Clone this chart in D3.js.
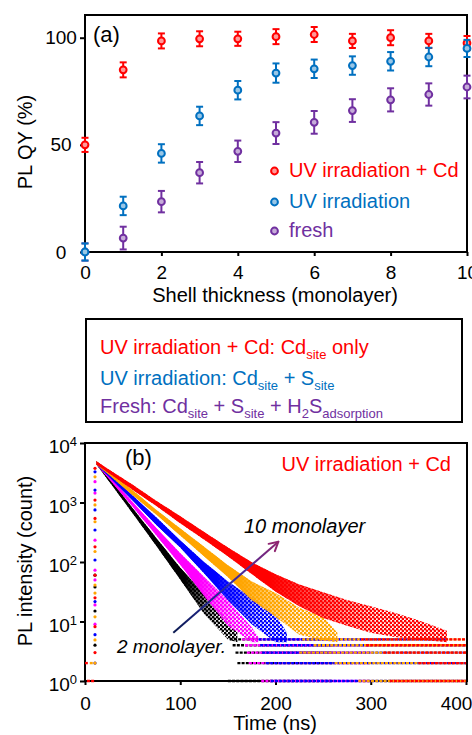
<!DOCTYPE html>
<html><head><meta charset="utf-8">
<script src="https://cdn.jsdelivr.net/npm/d3@7"></script>
<style>
body{margin:0;background:#fff}
text{font-family:"Liberation Sans",Arial,Helvetica,sans-serif}
</style>
</head><body>
<svg id="c" width="472" height="735"></svg>
<script>
// ===== Panel (a) data =====
const shell      = [0, 1, 2, 3, 4, 5, 6, 7, 8, 9, 10];
const qyUVCd     = [50, 85, 98.5, 99.5, 99.5, 100.5, 101.5, 98.5, 100, 98.5, 97.5];
const errUVCd    = [3.3, 3.5, 3.5, 3.5, 3.3, 3.5, 3.5, 3.3, 3.5, 3.3, 3.3];
const qyUV       = [0, 21.5, 46, 63.5, 75.5, 83.5, 85.5, 87, 89, 91, 95];
const errUV      = [4, 4.3, 4.3, 4.3, 4.3, 4.5, 4.3, 4.3, 4.3, 4.3, 4];
const qyFresh    = [0, 6.5, 23.5, 37, 47, 55.5, 60.5, 66, 71, 73.5, 77];
const errFresh   = [4, 5.3, 5, 5, 5, 5.1, 5.3, 5.3, 5.4, 5.2, 5.3];
const seriesA    = ["UV irradiation + Cd", "UV irradiation", "fresh"];
const xTicksA    = [0, 2, 4, 6, 8, 10];
const yTicksA    = [0, 50, 100];

// ===== Panel (b) data: [time ns, lower count, upper count] of each decay band =====
const band2  = [[12,4350,4950],[25,2300,2650],[50,660,800],[75,185,250],[100,51,80],[125,13.5,29],[150,5,10],[160,4.5,6.5]];
const band4  = [[12,4350,4950],[25,2500,2870],[50,845,1020],[75,280,370],[100,90,140],[125,27,56],[150,8.5,23],[175,4.5,8],[182,4.5,5.5]];
const band6  = [[12,4350,4950],[25,2730,3120],[50,1080,1310],[75,420,560],[100,175,230],[125,65,100],[150,23,47],[175,9,25],[200,4.5,13],[212,4.5,6.5]];
const band8  = [[12,4350,4950],[25,2930,3350],[50,1330,1610],[75,620,750],[100,280,365],[125,125,180],[150,56,88],[175,23,47],[200,12,30],[225,6,17],[250,4.8,12],[265,4.5,6.5]];
const band10 = [[12,4350,4950],[25,3140,3600],[50,1640,1980],[75,875,1060],[100,450,590],[125,240,318],[150,125,175],[175,63,99],[200,32,62],[225,18,42],[250,11.5,31],[275,8.5,23],[300,6.5,18],[325,5.5,14],[350,5,10.5],[380,4.5,7]];
// rising-edge points [time, count]
const rise2  = [[10.5,60],[10.5,38],[10.5,15],[10.5,4]];
const rise4  = [[10.5,2240],[10.5,1440],[10.5,233],[10.5,73],[10.5,50],[10.5,19],[10.5,9]];
const rise6  = [[10.5,3280],[10.5,1620],[10.5,750],[10.5,345],[10.5,108],[10.5,21.6],[10.5,6],[10.5,2]];
const rise8  = [[10.5,2700],[10.5,910],[10.5,475],[10.5,150],[10.5,41],[10.5,30],[10.5,12],[10.5,4.9],[10.5,2]];
const rise10 = [[10.5,3760],[10.5,1100],[10.5,540],[10.5,180],[10.5,60],[10.5,25],[10.5,8.2],[10.5,3]];
// discrete low-count rows [count, from time, to time]
const rows2  = [[1,150,260],[2,160,260],[3,158,260],[4,155,260],[5,152,250]];
const rows4  = [[1,185,300],[2,172,300],[3,170,300],[4,168,300],[5,165,290]];
const rows6  = [[1,195,400],[2,190,400],[3,186,400],[4,184,400],[5,182,380]];
const rows8  = [[2,5,9],[1,287,400],[2,262,400],[3,225,400],[4,240,400],[5,228,400]];
const rows10 = [[1,2,10],[2,0,3],[1,320,400],[2,350,400],[3,313,400],[4,295,400],[5,290,400]];
const layersB = ["2 monolayer", "4 monolayer", "6 monolayer", "8 monolayer", "10 monolayer"];
const xTicksB = [0, 100, 200, 300, 400];
const yTicksB = [1, 10, 100, 1000, 10000];

// ===== styles =====
const RED = "#ff0000", BLUE = "#0070c0", PURPLE = "#7030a0";
const colorsA = [RED, BLUE, PURPLE];
const colorsB = ["#000000", "#ff00ff", "#0000ff", "#ffa500", "#ff0000"];

const svg = d3.select("#c");
const defs = svg.append("defs");

// ================= Panel (a) =================
const xA = d3.scaleLinear().domain([0, 10]).range([85, 467]);
const yA = d3.scaleLinear().domain([0, 110.6]).range([252, 15]);

svg.append("rect")
  .attr("x", xA.range()[0]).attr("y", yA.range()[1])
  .attr("width", xA.range()[1] - xA.range()[0])
  .attr("height", yA.range()[0] - yA.range()[1])
  .attr("fill", "none").attr("stroke", "#000").attr("stroke-width", 2);

const axA_y = svg.append("g").attr("transform", `translate(${xA.range()[0]},0)`)
  .call(d3.axisLeft(yA).tickValues(yTicksA).tickSize(5));
axA_y.select(".domain").remove();
axA_y.selectAll("line").attr("stroke-width", 2);
axA_y.selectAll("text").attr("x", -24).attr("text-anchor", "middle")
  .style("font-size", "19px").attr("fill", "#000");

const axA_x = svg.append("g").attr("transform", `translate(0,${yA.range()[0]})`)
  .call(d3.axisBottom(xA).tickValues(xTicksA).tickSize(4));
axA_x.select(".domain").remove();
axA_x.selectAll("line").attr("stroke-width", 2);
axA_x.selectAll("text").attr("y", 13.5).style("font-size", "19px").attr("fill", "#000");

const dataA = [
  {vals: qyUVCd, err: errUVCd, col: RED},
  {vals: qyFresh, err: errFresh, col: PURPLE},
  {vals: qyUV, err: errUV, col: BLUE}
];
dataA.forEach(s => {
  const col = s.col;
  const fillc = d3.interpolateRgb(col, "#fff")(0.6);
  const g = svg.append("g");
  const pts = shell.map((x, i) => ({x, v: s.vals[i], e: s.err[i]}));
  g.selectAll(".eb").data(pts).join("line")
    .attr("x1", d => xA(d.x)).attr("x2", d => xA(d.x))
    .attr("y1", d => yA(d.v - d.e)).attr("y2", d => yA(d.v + d.e))
    .attr("stroke", col).attr("stroke-width", 2);
  [-1, 1].forEach(sg => {
    g.append("g").selectAll("line").data(pts).join("line")
      .attr("x1", d => xA(d.x) - 3.5).attr("x2", d => xA(d.x) + 3.5)
      .attr("y1", d => yA(d.v + sg * d.e)).attr("y2", d => yA(d.v + sg * d.e))
      .attr("stroke", col).attr("stroke-width", 2);
  });
  g.selectAll("circle").data(pts).join("circle")
    .attr("cx", d => xA(d.x)).attr("cy", d => yA(d.v)).attr("r", 3.4)
    .attr("fill", fillc).attr("stroke", col).attr("stroke-width", 2);
});

// legend (a)
const legY = [177, 208, 237];
seriesA.forEach((name, i) => {
  const col = colorsA[i];
  svg.append("circle").attr("cx", 274.5).attr("cy", legY[i] - 6).attr("r", 3.4)
    .attr("fill", d3.interpolateRgb(col, "#fff")(0.6)).attr("stroke", col).attr("stroke-width", 2);
  svg.append("text").attr("x", 289).attr("y", legY[i]).text(name)
    .attr("fill", col).style("font-size", "20px");
});

svg.append("text").attr("x", 93).attr("y", 42).text("(a)").style("font-size", "22px");
svg.append("text").attr("transform", "translate(32,142) rotate(-90)")
  .attr("text-anchor", "middle").style("font-size", "20px").text("PL QY (%)");
svg.append("text").attr("x", 275).attr("y", 302).attr("text-anchor", "middle")
  .style("font-size", "20px").text("Shell thickness (monolayer)");

// ================= Middle box =================
svg.append("rect").attr("x", 86).attr("y", 319).attr("width", 376).attr("height", 103)
  .attr("fill", "none").attr("stroke", "#000").attr("stroke-width", 2);

function richLine(y, col, parts) {
  const t = svg.append("text").attr("x", 100).attr("y", y).attr("fill", col).style("font-size", "20px");
  let lowered = false;
  parts.forEach(p => {
    if (p.sub) {
      t.append("tspan").attr("dy", lowered ? 0 : 5).style("font-size", "13px").text(p.sub);
      lowered = true;
    } else {
      t.append("tspan").attr("dy", lowered ? -5 : 0).text(p.t);
      lowered = false;
    }
  });
}
richLine(354, RED, [{t: "UV irradiation + Cd: Cd"}, {sub: "site"}, {t: " only"}]);
richLine(385, BLUE, [{t: "UV irradiation: Cd"}, {sub: "site"}, {t: " + S"}, {sub: "site"}]);
richLine(413, PURPLE, [{t: "Fresh: Cd"}, {sub: "site"}, {t: " + S"}, {sub: "site"}, {t: " + H"}, {sub: "2"}, {t: "S"}, {sub: "adsorption"}]);

// ================= Panel (b) =================
const xB = d3.scaleLinear().domain([0, 400]).range([85, 466]);
const yB = d3.scaleLog().domain([1, 10000]).range([681, 443]);

svg.append("rect")
  .attr("x", xB.range()[0]).attr("y", yB.range()[1])
  .attr("width", xB.range()[1] + 1 - xB.range()[0])
  .attr("height", yB.range()[0] - yB.range()[1])
  .attr("fill", "none").attr("stroke", "#000").attr("stroke-width", 2);

const axB_y = svg.append("g").attr("transform", `translate(${xB.range()[0]},0)`)
  .call(d3.axisLeft(yB).tickValues(yTicksB).tickSize(5).tickFormat(""));
axB_y.select(".domain").remove();
axB_y.selectAll("line").attr("stroke-width", 2);
yTicksB.forEach(v => {
  const t = svg.append("text").attr("x", 77).attr("y", yB(v) + 10)
    .attr("text-anchor", "end").style("font-size", "19px");
  t.append("tspan").text("10");
  t.append("tspan").attr("dy", -7).style("font-size", "13px").text(String(Math.round(Math.log10(v))));
});

const axB_x = svg.append("g").attr("transform", `translate(0,${yB.range()[0]})`)
  .call(d3.axisBottom(xB).tickValues(xTicksB).tickSize(4));
axB_x.select(".domain").remove();
axB_x.selectAll("line").attr("stroke-width", 2);
axB_x.selectAll("text").attr("y", 15.5).style("font-size", "19px").attr("fill", "#000")
  .attr("dx", d => d === xTicksB[xTicksB.length - 1] ? -10 : 0);

defs.append("clipPath").attr("id", "clipB").append("rect")
  .attr("x", xB.range()[0]).attr("y", yB.range()[1])
  .attr("width", xB.range()[1] + 2 - xB.range()[0])
  .attr("height", yB.range()[0] + 3 - yB.range()[1]);

const plotB = svg.append("g").attr("clip-path", "url(#clipB)");
const bandsB = [band2, band4, band6, band8, band10];
const risesB = [rise2, rise4, rise6, rise8, rise10];
const rowsB  = [rows2, rows4, rows6, rows8, rows10];

const areaB = d3.area().x(d => xB(d[0])).y0(d => yB(d[1])).y1(d => yB(d[2]));

// speckle patterns and fade masks (style only)
colorsB.forEach((col, i) => {
  const p = defs.append("pattern").attr("id", "sp" + i).attr("patternUnits", "userSpaceOnUse")
    .attr("width", 4).attr("height", 4);
  p.append("circle").attr("cx", 1).attr("cy", 1).attr("r", 1.4).attr("fill", col);
  p.append("circle").attr("cx", 3).attr("cy", 3).attr("r", 1.4).attr("fill", col);
  // fade solid fill where the band centre drops from ~50 to ~10 counts
  const b = bandsB[i];
  const centre = b.map(d => [d[0], Math.sqrt(d[1] * d[2])]);
  const tAt = lvl => {
    for (let k = 1; k < centre.length; k++) {
      if (centre[k][1] <= lvl) {
        const [t0, c0] = centre[k - 1], [t1, c1] = centre[k];
        const f = (Math.log(c0) - Math.log(lvl)) / (Math.log(c0) - Math.log(c1));
        return t0 + f * (t1 - t0);
      }
    }
    return centre[centre.length - 1][0];
  };
  const lg = defs.append("linearGradient").attr("id", "fg" + i).attr("gradientUnits", "userSpaceOnUse")
    .attr("x1", xB(tAt(50))).attr("x2", xB(tAt(10))).attr("y1", 0).attr("y2", 0);
  lg.append("stop").attr("offset", 0).attr("stop-color", "#fff");
  lg.append("stop").attr("offset", 1).attr("stop-color", "#000");
  defs.append("mask").attr("id", "mk" + i).attr("maskUnits", "userSpaceOnUse")
    .attr("x", 0).attr("y", 0).attr("width", 472).attr("height", 735)
    .append("rect").attr("x", 0).attr("y", 0).attr("width", 472).attr("height", 735)
    .attr("fill", `url(#fg${i})`);
});

layersB.forEach((name, i) => {
  plotB.append("g").selectAll("line").data(rowsB[i]).join("line")
    .attr("x1", d => xB(d[1])).attr("x2", d => xB(d[2]))
    .attr("y1", d => yB(d[0])).attr("y2", d => yB(d[0]))
    .attr("stroke", colorsB[i]).attr("stroke-width", 2.4)
    .attr("stroke-dasharray", "3 1.2");
});
layersB.forEach((name, i) => {
  plotB.append("path").datum(bandsB[i]).attr("d", areaB).attr("fill", `url(#sp${i})`);
  plotB.append("path").datum(bandsB[i]).attr("d", areaB).attr("fill", colorsB[i])
    .attr("mask", `url(#mk${i})`);
});
layersB.forEach((name, i) => {
  plotB.append("g").selectAll("circle").data(risesB[i]).join("circle")
    .attr("cx", d => xB(d[0])).attr("cy", d => yB(d[1])).attr("r", 1.6)
    .attr("fill", colorsB[i]);
});

// arrow annotation
const arrFrom = [92.7, 6.5], arrTo = [203, 219];
const ax1 = xB(arrFrom[0]), ay1 = yB(arrFrom[1]), ax2 = xB(arrTo[0]), ay2 = yB(arrTo[1]);
const grad = defs.append("linearGradient").attr("id", "arrG")
  .attr("gradientUnits", "userSpaceOnUse")
  .attr("x1", ax1).attr("y1", ay1).attr("x2", ax2).attr("y2", ay2);
grad.append("stop").attr("offset", "0").attr("stop-color", "#0b1a50");
grad.append("stop").attr("offset", "0.5").attr("stop-color", "#2a2aa8");
grad.append("stop").attr("offset", "1").attr("stop-color", "#8e2470");
svg.append("line").attr("x1", ax1).attr("y1", ay1).attr("x2", ax2).attr("y2", ay2)
  .attr("stroke", "url(#arrG)").attr("stroke-width", 2);
const ang = Math.atan2(ay2 - ay1, ax2 - ax1);
[-0.5, 0.5].forEach(da => {
  svg.append("line").attr("x1", ax2).attr("y1", ay2)
    .attr("x2", ax2 - 10 * Math.cos(ang + da)).attr("y2", ay2 - 10 * Math.sin(ang + da))
    .attr("stroke", "#8e2470").attr("stroke-width", 2).attr("stroke-linecap", "round");
});

svg.append("text").attr("x", 244).attr("y", 533).style("font-size", "20px")
  .style("font-style", "italic").text("10 monolayer");
svg.append("text").attr("x", 117).attr("y", 653).style("font-size", "19px")
  .style("font-style", "italic").text("2 monolayer.");

svg.append("text").attr("x", 125).attr("y", 465).text("(b)").style("font-size", "22px");
svg.append("text").attr("x", 451).attr("y", 471).attr("text-anchor", "end")
  .attr("fill", RED).style("font-size", "20px").text("UV irradiation + Cd");
svg.append("text").attr("transform", "translate(32,561) rotate(-90)")
  .attr("text-anchor", "middle").style("font-size", "20px").text("PL intensity (count)");
svg.append("text").attr("x", 275).attr("y", 730).attr("text-anchor", "middle")
  .style("font-size", "20px").text("Time (ns)");
</script>
</body></html>
